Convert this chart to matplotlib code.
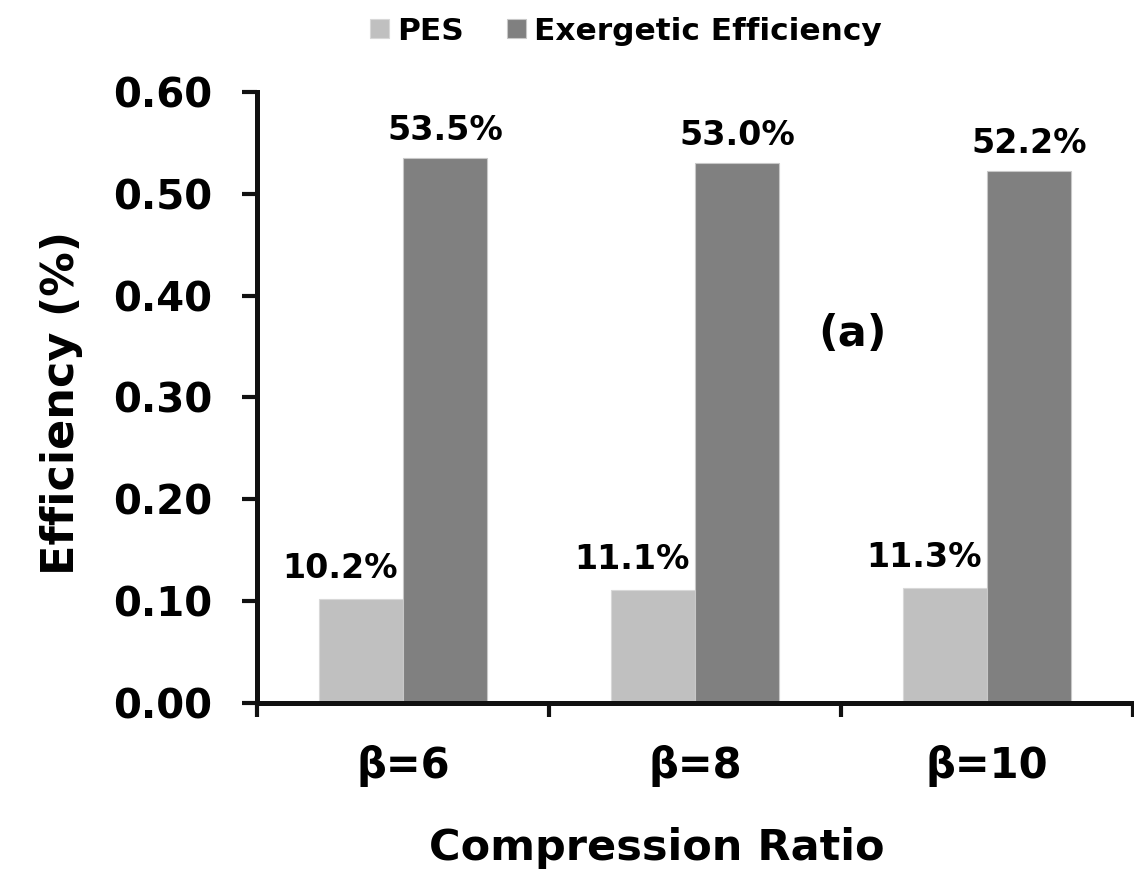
import numpy as np
import matplotlib
matplotlib.use("Agg")
import matplotlib.pyplot as plt
from matplotlib.ticker import FixedLocator

plt.rcParams['font.family'] = ['DejaVu Sans']
plt.rcParams['font.weight'] = 'bold'

# data
categories = ['β=6', 'β=8', 'β=10']
pes = [0.102, 0.111, 0.113]
exergetic = [0.535, 0.530, 0.522]
pes_labels = ['10.2%', '11.1%', '11.3%']
ex_labels = ['53.5%', '53.0%', '52.2%']
yticks = [0.0, 0.1, 0.2, 0.3, 0.4, 0.5, 0.6]

fig = plt.figure(figsize=(11.34, 8.75), dpi=100)
ax = fig.add_axes([0.2266, 0.1966, 0.7725, 0.6983])

x = np.arange(len(categories))
w = 0.287
b1 = ax.bar(x - w / 2, pes, w, color='#c0c0c0', edgecolor='#d8d8d8', linewidth=0.8, label='PES')
b2 = ax.bar(x + w / 2, exergetic, w, color='#808080', edgecolor='#c8c8c8', linewidth=0.8,
            label='Exergetic Efficiency')

for xi, v, t in zip(x, pes, pes_labels):
    ax.annotate(t, (xi - w / 2, v), xytext=(-15, 22), textcoords='offset points',
                ha='center', va='center', fontsize=24, fontweight='bold')
for xi, v, t in zip(x, exergetic, ex_labels):
    ax.annotate(t, (xi + w / 2, v), xytext=(0, 20), textcoords='offset points',
                ha='center', va='center', fontsize=24, fontweight='bold')

ax.set_xlim(-0.5, 2.5)
ax.set_ylim(0, 0.6)
ax.set_yticks(yticks)
ax.set_yticklabels([f'{t:.2f}' for t in yticks], fontsize=29, fontweight='bold')
ax.set_xticks(x)
ax.set_xticklabels(categories, fontsize=30, fontweight='bold')
ax.xaxis.set_minor_locator(FixedLocator([-0.5, 0.5, 1.5, 2.5]))

ax.tick_params(axis='y', direction='out', length=11, width=3, pad=21, color='#111111')
ax.tick_params(axis='x', which='major', length=0, pad=30)
ax.tick_params(axis='x', which='minor', direction='out', length=10, width=3, color='#111111')

for s in ['top', 'right']:
    ax.spines[s].set_visible(False)
for s in ['left', 'bottom']:
    ax.spines[s].set_linewidth(3.6)
    ax.spines[s].set_color('#111111')
ax.spines['bottom'].set_capstyle('projecting')

ax.text(853 / 1134, 1 - 334 / 875, '(a)', transform=fig.transFigure,
        ha='center', va='center', fontsize=31, fontweight='bold')

fig.text(657 / 1134, 1 - 860 / 875, 'Compression Ratio', ha='center', va='baseline',
         fontsize=31, fontweight='bold')
fig.text(62 / 1134, 1 - 403 / 875, 'Efficiency (%)', rotation=90, ha='center', va='center',
         fontsize=32, fontweight='bold')

fig.legend(handles=[b1, b2], loc='center', bbox_to_anchor=(626 / 1134, 1 - 31 / 875),
           ncol=2, frameon=False, handlelength=0.6, handleheight=0.6,
           handletextpad=0.25, columnspacing=1.4, prop={'weight': 'bold', 'size': 22.5})

fig.savefig('out.png', dpi=100)
